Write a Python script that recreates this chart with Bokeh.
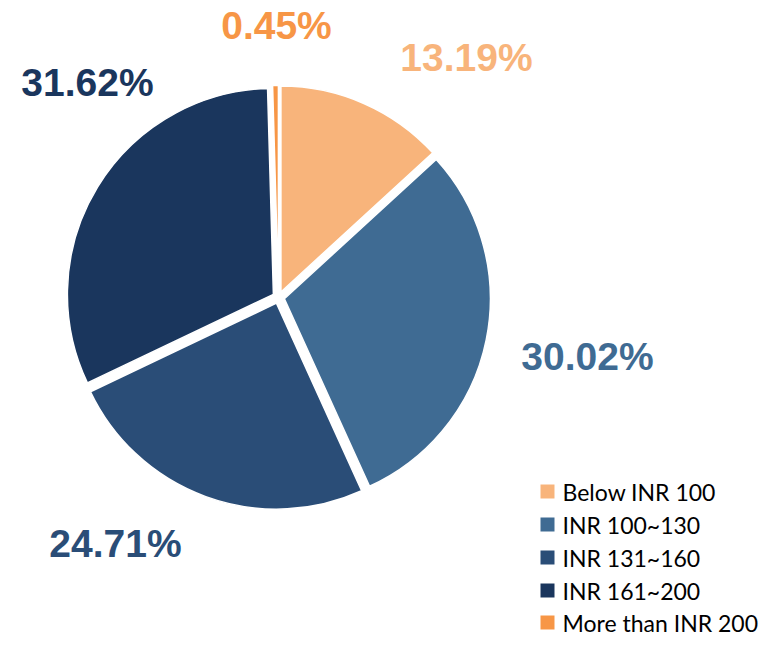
import math
from bokeh.plotting import figure
from bokeh.models import Range1d, ColumnDataSource
from bokeh.core.properties import value
from bokeh.embed import file_html
from bokeh.resources import INLINE

categories = ["Below INR 100", "INR 100~130", "INR 131~160", "INR 161~200", "More than INR 200"]
shares = [13.19, 30.02, 24.71, 31.62, 0.45]
labels = ["13.19%", "30.02%", "24.71%", "31.62%", "0.45%"]
colors = ["#F8B47B", "#3F6B93", "#2A4D77", "#1A365D", "#F79646"]

# layout (pixel-like data units; y upward, data y = 645 - screen y)
W, H = 770, 637
cx, cy, R = 278, 348, 206
explode = 6
label_pos = [(466, 588), (587, 289), (115, 102), (87, 563), (276, 620)]

total = sum(shares)
starts, ends, xs, ys = [], [], [], []
cum = 0.0
for s in shares:
    a0 = math.pi / 2 - 2 * math.pi * (cum + s) / total
    a1 = math.pi / 2 - 2 * math.pi * cum / total
    mid = (a0 + a1) / 2
    starts.append(a0)
    ends.append(a1)
    xs.append(cx + explode * math.cos(mid))
    ys.append(cy + explode * math.sin(mid))
    cum += s

src = ColumnDataSource(dict(x=xs, y=ys, start=starts, end=ends, color=colors))

p = figure(width=W, height=H, output_backend="svg", toolbar_location=None,
           x_range=Range1d(0, W), y_range=Range1d(645 - H, 645),
           min_border=0)
p.axis.visible = False
p.grid.visible = False
p.outline_line_color = None

p.wedge(x="x", y="y", radius=R, start_angle="start", end_angle="end",
        fill_color="color", line_color="white", line_width=1.5, source=src)

lsrc = ColumnDataSource(dict(x=[q[0] for q in label_pos], y=[q[1] for q in label_pos],
                             text=labels, color=colors))
p.text(x="x", y="y", text="text", text_color="color", source=lsrc,
       text_font=value("Liberation Sans"), text_font_style="bold",
       text_font_size="39px", text_align="center", text_baseline="middle")

# legend
leg_y = [154, 121, 88, 55, 23]
leg = ColumnDataSource(dict(x=[547] * 5, y=leg_y, tx=[562] * 5, text=categories, color=colors))
p.rect(x="x", y="y", width=14, height=14, fill_color="color", line_color=None, source=leg)
p.text(x="tx", y="y", text="text", source=leg, text_color="#000000",
       text_font=value("Lato"), text_font_size="23px",
       text_align="left", text_baseline="middle")

open("out.html", "w").write(file_html(p, INLINE))
